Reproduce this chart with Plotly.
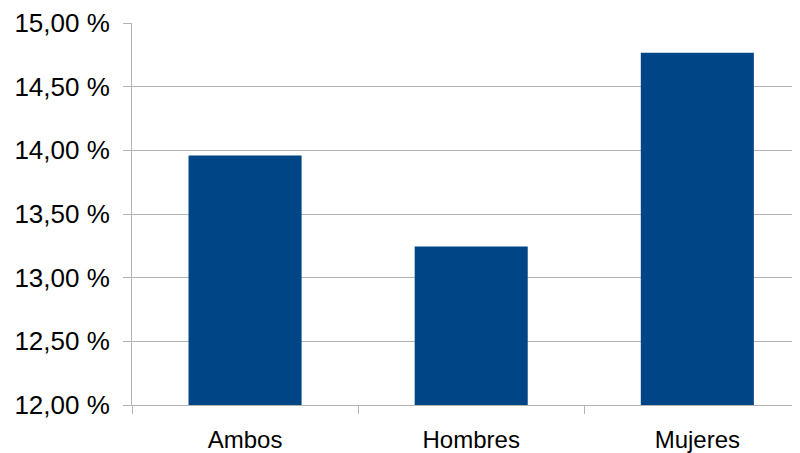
import plotly.graph_objects as go

categories = ["Ambos", "Hombres", "Mujeres"]
values = [13.96, 13.245, 14.767]
y_tick_vals = [12.0, 12.5, 13.0, 13.5, 14.0, 14.5, 15.0]
y_tick_text = ["12,00 %", "12,50 %", "13,00 %", "13,50 %", "14,00 %", "14,50 %", "15,00 %"]

BAR = "#004586"
GRID = "#b3b3b3"
FAM = "Liberation Sans, Arial, sans-serif"
XFONT = dict(family=FAM, size=24, color="#000000")
YFONT = dict(family=FAM, size=26, color="#000000")

fig = go.Figure(go.Bar(x=categories, y=values, marker=dict(color=BAR, line=dict(width=0)),
                       width=0.5, hoverinfo="x+y"))

# page body has an 8px margin, so the figure is drawn 8px in from the top-left
fig.update_layout(
    width=792, height=445,
    margin=dict(l=124, r=0, t=15, b=48),
    paper_bgcolor="white", plot_bgcolor="white",
    font=XFONT,
    showlegend=False,
    xaxis=dict(type="category", range=[-0.5, 2.454], tickson="boundaries",
               ticks="outside", ticklen=8, tickcolor=GRID, tickwidth=1,
               showline=True, linecolor=GRID, linewidth=1, automargin=False,
               showgrid=False, tickfont=XFONT, ticklabelstandoff=13),
    yaxis=dict(range=[12, 15], tickvals=y_tick_vals, ticktext=y_tick_text,
               ticks="outside", ticklen=8, tickcolor=GRID, tickwidth=1,
               showline=True, linecolor=GRID, linewidth=1, automargin=False,
               showgrid=True, gridcolor=GRID, gridwidth=1,
               zeroline=False, tickfont=YFONT, ticklabelstandoff=8),
)

fig.write_html("out.html")
